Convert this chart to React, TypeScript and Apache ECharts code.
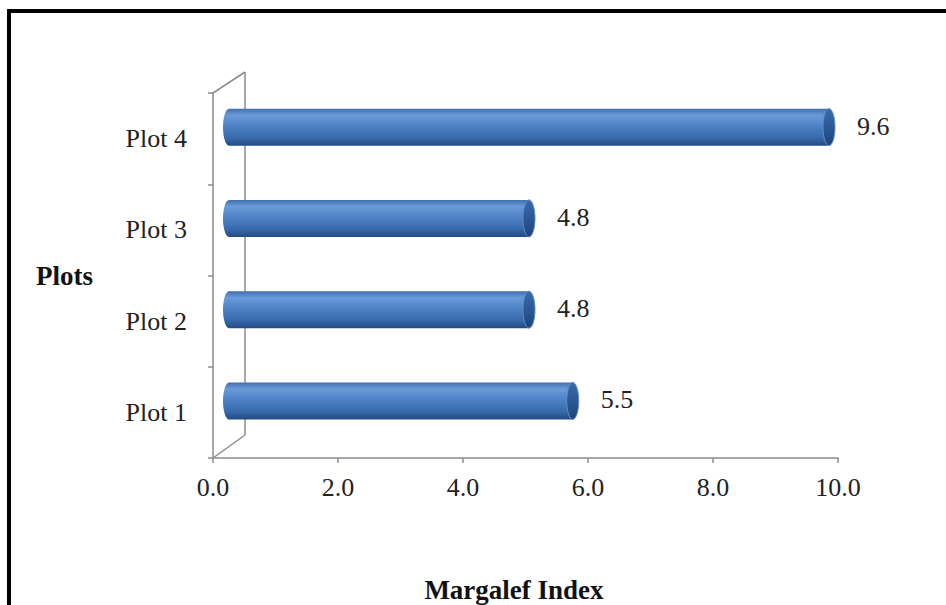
import React, { useEffect, useRef } from "react";
import * as echarts from "echarts";

const categories = ["Plot 1", "Plot 2", "Plot 3", "Plot 4"];
const values = [5.5, 4.8, 4.8, 9.6];
const valueLabels = ["5.5", "4.8", "4.8", "9.6"];
const xTicks = { min: 0, max: 10, interval: 2 };
const xTitle = "Margalef Index";
const yTitle = "Plots";

const GRID = { left: 213, top: 93, width: 625, height: 365 };
const SERIF = "'Liberation Serif', 'DejaVu Serif', serif";

export default function App() {
  const ref = useRef<HTMLDivElement>(null);

  useEffect(() => {
    if (!ref.current) return;
    const chart = echarts.init(ref.current, null, { renderer: "svg" });

    const bodyGrad = () =>
      new echarts.graphic.LinearGradient(0, 0, 0, 1, [
        { offset: 0, color: "#3f6eac" },
        { offset: 0.18, color: "#6b9ad8" },
        { offset: 0.45, color: "#4f84c8" },
        { offset: 0.8, color: "#3868aa" },
        { offset: 1, color: "#234b84" },
      ]);
    const capGrad = () =>
      new echarts.graphic.LinearGradient(0, 0, 0, 1, [
        { offset: 0, color: "#3c6bab" },
        { offset: 0.5, color: "#2b5895" },
        { offset: 1, color: "#1f457b" },
      ]);

    const gB = GRID.top + GRID.height;
    const gL = GRID.left;
    const depthX = 32;
    const depthY = 22;
    const wallStyle = { stroke: "#8c8c8c", lineWidth: 1.5 };

    chart.setOption({
      animation: false,
      backgroundColor: "#ffffff",
      grid: { left: GRID.left, top: GRID.top, width: GRID.width, height: GRID.height, containLabel: false },
      xAxis: {
        type: "value",
        min: xTicks.min,
        max: xTicks.max,
        interval: xTicks.interval,
        splitLine: { show: false },
        axisLine: { show: true, lineStyle: { color: "#8c8c8c", width: 1.5 } },
        axisTick: { show: true, length: 5, lineStyle: { color: "#8c8c8c", width: 1.5 } },
        axisLabel: {
          formatter: (v: number) => v.toFixed(1),
          color: "#222",
          fontFamily: SERIF,
          fontSize: 26,
          margin: 16,
        },
      },
      yAxis: {
        type: "category",
        data: categories,
        boundaryGap: true,
        name: yTitle,
        nameLocation: "middle",
        nameRotate: 0,
        nameGap: 120,
        nameTextStyle: { fontFamily: SERIF, fontWeight: "bold", fontSize: 27, color: "#111", align: "right" },
        axisLine: { show: true, lineStyle: { color: "#8c8c8c", width: 1.5 } },
        axisTick: { show: true, length: 5, alignWithLabel: false, lineStyle: { color: "#8c8c8c", width: 1.5 } },
        axisLabel: { color: "#222", fontFamily: SERIF, fontSize: 26, margin: 26 },
      },
      graphic: [
        { type: "line", z: 0, shape: { x1: gL, y1: GRID.top, x2: gL + depthX, y2: GRID.top - depthY + 1 }, style: wallStyle },
        { type: "line", z: 0, shape: { x1: gL + depthX, y1: GRID.top - depthY + 1, x2: gL + depthX, y2: gB - 23 }, style: wallStyle },
        { type: "line", z: 0, shape: { x1: gL + depthX, y1: gB - 23, x2: gL, y2: gB }, style: wallStyle },
        {
          type: "text",
          z: 10,
          x: 514,
          y: 590,
          style: { text: xTitle, font: "bold 27px " + SERIF, fill: "#111", align: "center", verticalAlign: "middle" },
        },
        { type: "rect", z: 100, shape: { x: 7, y: 9, width: 4, height: 600 }, style: { fill: "#000" } },
        { type: "rect", z: 100, shape: { x: 7, y: 9, width: 945, height: 4 }, style: { fill: "#000" } },
      ],
      series: [
        {
          type: "custom",
          z: 5,
          data: values.map((v, i) => [v, i]),
          encode: { x: 0, y: 1 },
          renderItem: (params: any, api: any) => {
            const v = api.value(0);
            const idx = api.value(1);
            const p0 = api.coord([0, idx]);
            const p1 = api.coord([v, idx]);
            const cy = p0[1] - 11.5;
            const h = 37;
            const rx = 6;
            const x0 = p0[0] + 16;
            const x1 = p1[0] + 16;
            return {
              type: "group",
              children: [
                { type: "ellipse", shape: { cx: x0, cy, rx, ry: h / 2 }, style: { fill: bodyGrad() } },
                { type: "rect", shape: { x: x0, y: cy - h / 2, width: x1 - x0, height: h }, style: { fill: bodyGrad() } },
                { type: "ellipse", shape: { cx: x1, cy, rx, ry: h / 2 }, style: { fill: capGrad(), stroke: "#5d8dcb", lineWidth: 1 } },
                {
                  type: "text",
                  x: x1 + rx + 22,
                  y: cy - 1,
                  style: {
                    text: valueLabels[params.dataIndex],
                    font: "26px " + SERIF,
                    fill: "#222",
                    verticalAlign: "middle",
                    align: "left",
                  },
                },
              ],
            };
          },
        },
      ],
    });

    return () => chart.dispose();
  }, []);

  return (
    <div
      ref={ref}
      style={{ position: "absolute", left: 0, top: 0, width: 946, height: 605, background: "#fff" }}
    />
  );
}
